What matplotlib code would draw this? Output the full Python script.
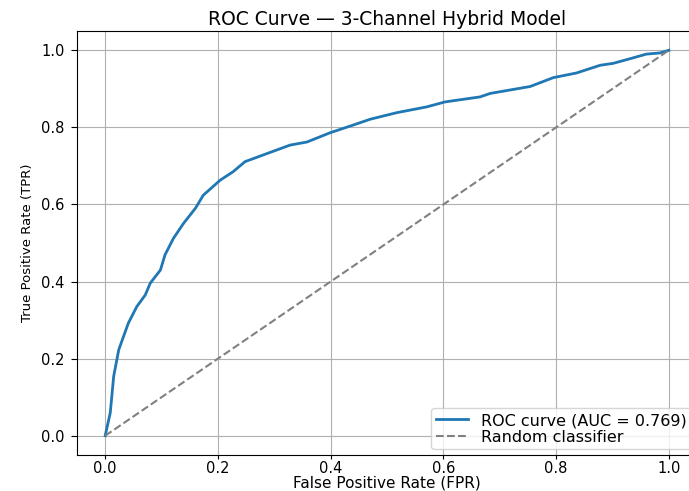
import matplotlib
matplotlib.use("Agg")
import matplotlib.pyplot as plt

fpr = [0.0, 0.009, 0.015, 0.024, 0.041, 0.056, 0.071, 0.080, 0.098, 0.106, 0.121,
       0.139, 0.160, 0.174, 0.204, 0.227, 0.248, 0.287, 0.328, 0.358, 0.399, 0.440,
       0.470, 0.517, 0.570, 0.603, 0.665, 0.683, 0.754, 0.795, 0.836, 0.878, 0.901,
       0.931, 0.960, 0.984, 1.0]
tpr = [0.0, 0.06, 0.154, 0.223, 0.292, 0.335, 0.365, 0.396, 0.43, 0.469, 0.512,
       0.551, 0.590, 0.624, 0.663, 0.685, 0.711, 0.732, 0.754, 0.762, 0.786, 0.806,
       0.821, 0.838, 0.853, 0.866, 0.879, 0.888, 0.906, 0.929, 0.941, 0.961, 0.966,
       0.978, 0.990, 0.993, 1.0]
auc_value = 0.769
diag = [0.0, 1.0]

plt.rcParams['font.family'] = ['DejaVu Sans']

fig = plt.figure(figsize=(6.89, 4.91), dpi=100)
ax = fig.add_axes([0.1118, 0.0733, 0.8999, 0.8636])
ax.plot(fpr, tpr, color='#1f77b4', lw=2, label=f'ROC curve (AUC = {auc_value:.3f})')
ax.plot(diag, diag, '--', color='gray', lw=1.5, label='Random classifier')
ax.set_xlim(-0.05, 1.05)
ax.set_ylim(-0.05, 1.05)
ax.set_title('ROC Curve — 3-Channel Hybrid Model', fontsize=13.5, pad=4)
ax.set_xlabel('False Positive Rate (FPR)', fontsize=11, va='bottom')
ax.xaxis.set_label_coords(0.5, -0.0835)
ax.set_ylabel('True Positive Rate (TPR)', fontsize=9.5, labelpad=5)
ax.tick_params(axis='x', labelsize=10.5, length=3, pad=1.5)
ax.tick_params(axis='y', labelsize=10.5, length=4.5, pad=4.5)
ax.grid(True)
ax.legend(loc='lower right', fontsize=11.5, labelspacing=0.1, borderpad=0.3,
          handlelength=2.0, borderaxespad=0.35)
fig.savefig('out.png', dpi=100)
